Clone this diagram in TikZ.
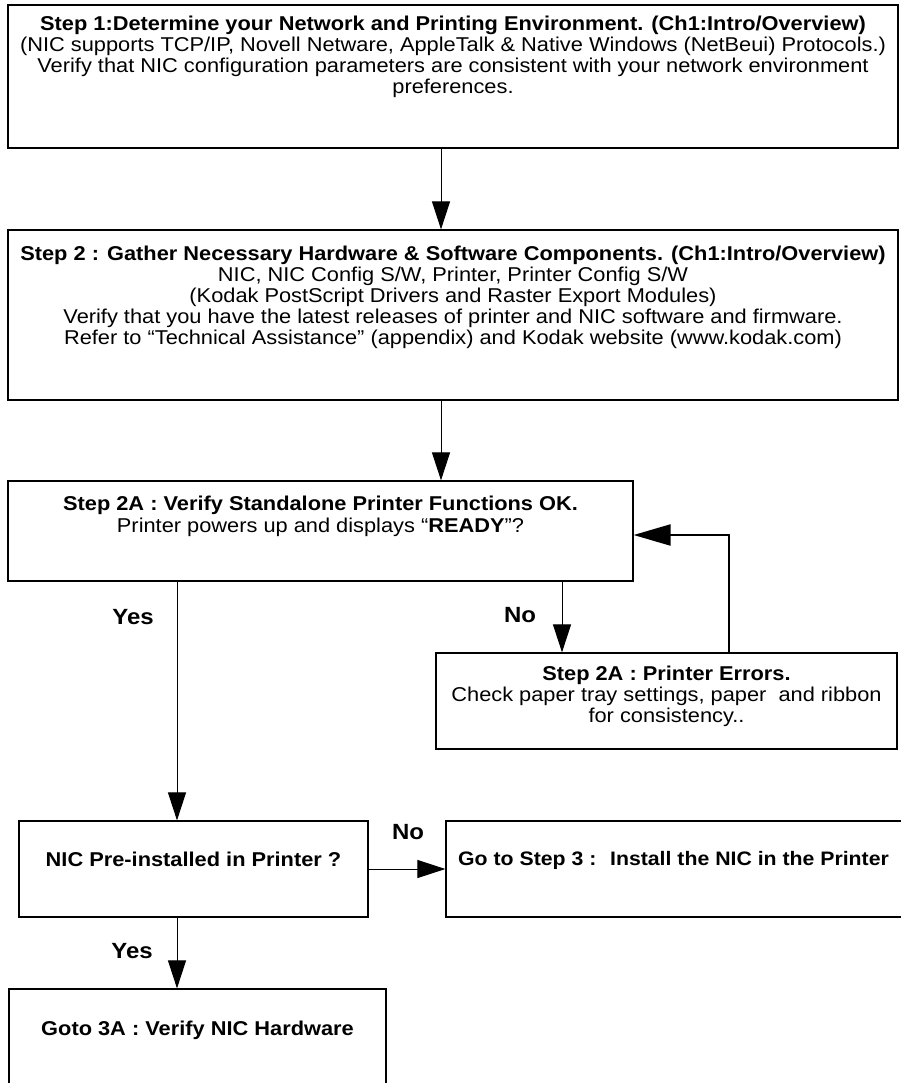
\documentclass[tikz,border=0pt]{standalone}
\usepackage{fontspec}
\setmainfont[FakeStretch=1.09]{Liberation Sans}
\usetikzlibrary{arrows.meta,positioning}

\tikzset{
  stepbox/.style={draw, line width=1.2pt, inner sep=0pt},
  steptext/.style={align=center, inner sep=0pt, font=\fontsize{20}{21}\selectfont},
  answer/.style={inner sep=0pt, font=\fontsize{22}{24}\selectfont\bfseries},
  flow/.style={-{Triangle[length=28pt,width=18pt]}, line width=1pt},
  back/.style={-{Triangle[length=37pt,width=21pt]}, line width=2.2pt},
}

\begin{document}
\begin{tikzpicture}[x=1pt,y=-1pt]
    \useasboundingbox (0,0) rectangle (901,1083);
    \clip (0,0) rectangle (901,1083);

    % Boxes
    \node[stepbox, minimum width=890pt, minimum height=143pt] (step1) at (453,76.5) {};
    \node[stepbox, minimum width=890pt, minimum height=170pt] (step2) at (453,315) {};
    \node[stepbox, minimum width=625pt, minimum height=100pt] (check) at (320.5,531) {};
    \node[stepbox, minimum width=461pt, minimum height=96pt] (errors) at (666.5,701) {};
    \node[stepbox, minimum width=349pt, minimum height=96pt] (preinst) at (193.5,869) {};
    \node[stepbox, minimum width=460pt, minimum height=96pt] (install) at (676,869) {};
    \node[stepbox, minimum width=377pt, minimum height=106pt] (verify) at (197.5,1042) {};

    % Texts
    \node[steptext, below=11pt of step1.north] (step1txt) {%
        \textbf{Step 1:Determine your Network and Printing Environment. (Ch1:Intro/Overview)}\\
        (NIC supports TCP/IP, Novell Netware, AppleTalk \& Native Windows (NetBeui) Protocols.)\\
        Verify that NIC configuration parameters are consistent with your network environment\\
        preferences.};
    \node[steptext, below=16pt of step2.north] (step2txt) {%
        \textbf{Step 2 : Gather Necessary Hardware \& Software Components. (Ch1:Intro/Overview)}\\
        NIC, NIC Config S/W, Printer, Printer Config S/W\\
        (Kodak PostScript Drivers and Raster Export Modules)\\
        Verify that you have the latest releases of printer and NIC software and firmware.\\
        Refer to “Technical Assistance” (appendix) and Kodak website (www.kodak.com)};
    \node[steptext, font=\fontsize{20}{22}\selectfont, below=15pt of check.north] (checktxt) {%
        \textbf{Step 2A : Verify Standalone Printer Functions OK.}\\
        Printer powers up and displays “\textbf{READY}”?};
    \node[steptext, below=13pt of errors.north] (errorstxt) {%
        \textbf{Step 2A : Printer Errors.}\\
        Check paper tray settings, paper~ and ribbon\\
        for consistency..};
    \node[steptext, font=\fontsize{20}{21}\selectfont\bfseries] (preinsttxt) at (193.5,859) {NIC Pre-installed in Printer ?};
    \node[steptext, font=\fontsize{19.5}{21}\selectfont\bfseries, anchor=west] (installtxt) at (458,860) {Go to Step 3 :~ Install the NIC in the Printer};
    \node[steptext, font=\fontsize{20}{21}\selectfont\bfseries] (verifytxt) at (197.5,1030) {Goto 3A : Verify NIC Hardware};

    % Answers
    \node[answer] (yes1) at (133,617) {Yes};
    \node[answer] (no1) at (520,615) {No};
    \node[answer] (no2) at (408,832) {No};
    \node[answer] (yes2) at (132,951) {Yes};

    % Arrows
    \coordinate (mainx) at (441,0);
    \coordinate (yesx) at (177,0);
    \coordinate (nox) at (562,0);
    \coordinate (backx) at (729,0);
    \coordinate (backy) at (0,535);
    \draw[flow] (step1.south -| mainx) -- (step2.north -| mainx);
    \draw[flow] (step2.south -| mainx) -- (check.north -| mainx);
    \draw[flow] (check.south -| yesx) -- (preinst.north -| yesx);
    \draw[flow] (check.south -| nox) -- (errors.north -| nox);
    \draw[back] (errors.north -| backx) |- (check.east |- backy);
    \draw[flow] (preinst.east) -- (install.west);
    \draw[flow] (preinst.south -| yesx) -- (verify.north -| yesx);
\end{tikzpicture}
\end{document}
